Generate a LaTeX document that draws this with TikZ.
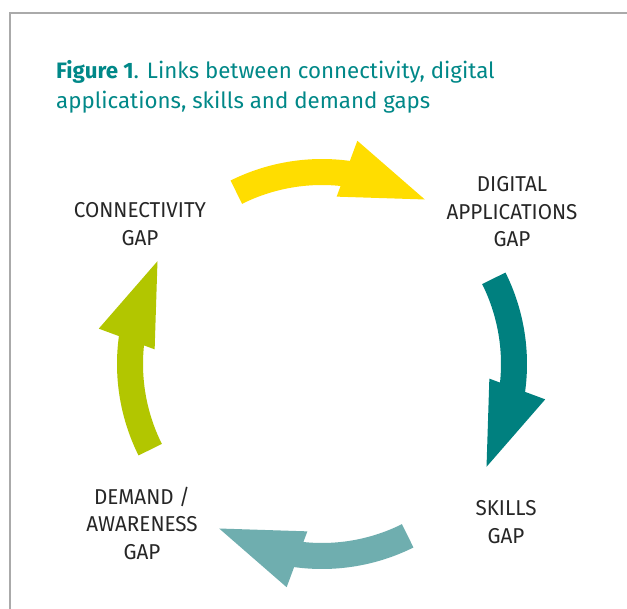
\documentclass[tikz,border=0pt]{standalone}
\usepackage{fontspec}
\setmainfont{Fira Sans}
\newfontfamily\labelfont{Fira Sans}[FakeStretch=0.96]
\usetikzlibrary{calc}

\definecolor{frame}{RGB}{170,170,170}
\definecolor{titleteal}{RGB}{0,136,136}
\definecolor{cyyellow}{RGB}{255,221,0}
\definecolor{cyteal}{RGB}{0,128,127}
\definecolor{cylight}{RGB}{111,174,175}
\definecolor{cyolive}{RGB}{178,198,0}

\tikzset{
  gaplabel/.style={align=center, text=black!85,
    font=\labelfont\fontsize{21.5}{27.5}\selectfont},
}

% curved block arrow on the cycle: #1 colour, #2 angle where the shaft starts
\newcommand\cyclearrow[2]{%
  \pgfmathsetmacro\shaftend{#2-36}%
  \pgfmathsetmacro\barbout{#2-35.5}%
  \pgfmathsetmacro\barbin{#2-31.5}%
  \pgfmathsetmacro\tipang{#2-58.5}%
  \fill[#1] ($(c)+(#2:205)$) arc[start angle=#2, end angle=\shaftend, radius=205]
    -- ($(c)+(\shaftend:179)$) arc[start angle=\shaftend, end angle=#2, radius=179] -- cycle;
  \fill[#1] ($(c)+(\barbout:226)$) -- ($(c)+(\tipang:194)$) -- ($(c)+(\barbin:168)$) -- cycle;
}

\begin{document}
\begin{tikzpicture}[x=1pt,y=1pt]
  \useasboundingbox (0,0) rectangle (627,-609);
  \fill[white] (0,0) rectangle (627,-609);

  % open frame: top and left rules
  \draw[frame, line width=2pt] (10,-609) -- (10,-13) -- (627,-13);

  % title
  \node[anchor=north west, align=left, text=titleteal,
        font=\fontsize{22.3}{30}\selectfont, inner sep=0pt] (title) at (56,-60)
    {\textbf{Figure 1}. Links between connectivity, digital\\
     applications, skills and demand gaps};

  \coordinate (c) at (322,-364);

  % the four gaps
  \node[gaplabel] (conn)   at (140,-224) {CONNECTIVITY\\GAP};
  \node[gaplabel] (digi)   at (512,-212) {DIGITAL\\APPLICATIONS\\GAP};
  \node[gaplabel] (skills) at (506,-522) {SKILLS\\GAP};
  \node[gaplabel] (demand) at (142,-523) {DEMAND /\\AWARENESS\\GAP};

  % arrows turning clockwise between them
  \cyclearrow{cyyellow}{116.5}
  \cyclearrow{cyteal}{26.5}
  \cyclearrow{cylight}{-63.5}
  \cyclearrow{cyolive}{-153.5}
\end{tikzpicture}
\end{document}
